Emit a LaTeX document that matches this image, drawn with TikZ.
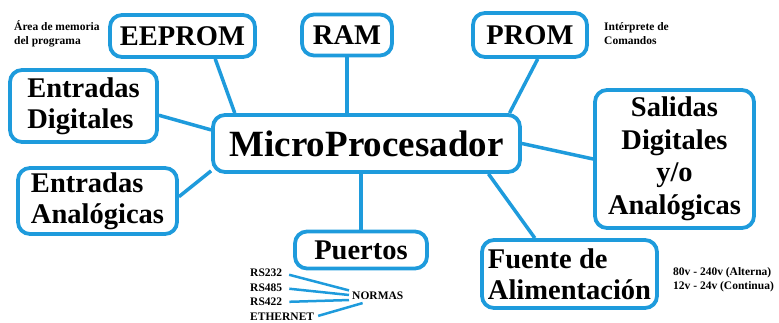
\documentclass[tikz,border=0pt]{standalone}
\usepackage{fontspec}
\setmainfont{Liberation Serif}
\usepackage{tikz}
\usetikzlibrary{calc}

\definecolor{mapblue}{RGB}{30,155,220}

\begin{document}
\begin{tikzpicture}[x=1pt,y=-1pt,
	bloque/.style={draw=mapblue,line width=3.8pt,rounded corners=12pt,inner sep=0pt,align=center,font=\bfseries\fontsize{28.5}{31}\selectfont},
	rama/.style={draw=mapblue,line width=3.5pt},
	nota/.style={inner sep=0pt,align=left,font=\bfseries\fontsize{11.5}{14}\selectfont},
	norma/.style={draw=mapblue,line width=2.5pt,shorten <=7pt}]
	\useasboundingbox (0,0) rectangle (779,323);

	\node[bloque,minimum width=307pt,minimum height=57pt,font=\bfseries\fontsize{37}{40}\selectfont] (micro) at (366.5,143.5) {MicroProcesador};
	\node[bloque,minimum width=145pt,minimum height=42pt] (eeprom) at (182.5,36) {EEPROM};
	\node[bloque,minimum width=90pt,minimum height=41pt] (ram) at (347,35) {RAM};
	\node[bloque,minimum width=114pt,minimum height=44pt] (prom) at (530,35) {PROM};
	\node[bloque,minimum width=147pt,minimum height=72pt,align=left] (entdig) at (83.5,106) {Entradas\\Digitales};
	\node[bloque,minimum width=159pt,minimum height=66pt,align=left] (entana) at (97.5,201) {Entradas\\Anal\'ogicas};
	\node[bloque,minimum width=159pt,minimum height=138pt,font=\bfseries\fontsize{28.5}{32.5}\selectfont] (salidas) at (674.5,159) {Salidas\\Digitales\\y/o\\Anal\'ogicas};
	\node[bloque,minimum width=132pt,minimum height=37pt] (puertos) at (361,250) {Puertos};
	\node[bloque,minimum width=175pt,minimum height=68pt,align=left] (fuente) at (569.5,274) {Fuente de\\Alimentaci\'on};

	\draw[rama] (eeprom.-35) -- (micro.167);
	\draw[rama] (ram.south) -- (ram.south |- micro.north);
	\draw[rama] (prom.-72) -- (micro.12);
	\draw[rama] (entdig.-7) -- (micro.175);
	\draw[rama] (entana.3) -- (micro.190);
	\draw[rama] (micro.east) -- (salidas.west);
	\draw[rama] (puertos.north) -- (puertos.north |- micro.south);
	\draw[rama] (micro.-14) -- (fuente.134);

	\node[nota,anchor=west] (area) at (14,34) {\'Area de memoria\\del programa};
	\node[nota,anchor=west] (interprete) at (604,34) {Int\'erprete de\\Comandos};
	\node[nota,anchor=west] (tension) at (673,280) {80v - 240v (Alterna)\\12v - 24v (Continua)};

	\node[nota,anchor=west] (rs232) at (250,273) {RS232};
	\node[nota,anchor=west] (rs485) at (250,288) {RS485};
	\node[nota,anchor=west] (rs422) at (250,302) {RS422};
	\node[nota,anchor=west] (ethernet) at (250,317) {ETHERNET};
	\node[nota,inner sep=3pt,anchor=west] (normas) at (349,296) {NORMAS};

	\draw[norma] (rs232.east) -- (normas.169);
	\draw[norma] (rs485.east) -- (normas.178);
	\draw[norma] (rs422.east) -- (normas.188);
	\draw[norma,shorten <=4pt] (ethernet.east) -- (normas.205);
\end{tikzpicture}
\end{document}
